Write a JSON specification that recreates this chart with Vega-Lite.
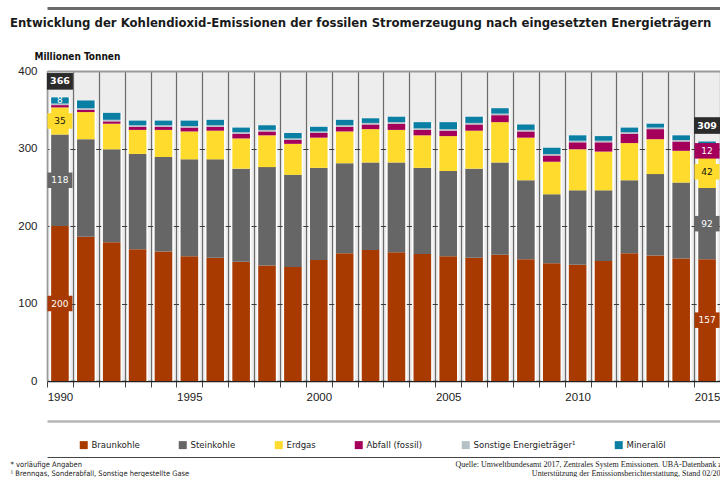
{
  "$schema": "https://vega.github.io/schema/vega-lite/v6.json",
  "width": 673,
  "height": 310,
  "autosize": {"type": "none"},
  "padding": {"left": 47, "top": 71, "right": 0, "bottom": 96},
  "background": "white",
  "title": {
    "text": "Entwicklung der Kohlendioxid-Emissionen der fossilen Stromerzeugung nach eingesetzten Energieträgern",
    "anchor": "start",
    "frame": "group",
    "dx": -37,
    "offset": -32,
    "baseline": "alphabetic",
    "font": "DejaVu Sans Condensed, sans-serif",
    "fontSize": 13,
    "fontWeight": "bold",
    "color": "#1a1a1a"
  },
  "data": {
    "values": [
      {"year": 1990, "Braunkohle": 200, "Steinkohle": 118, "Erdgas": 35, "Abfall": 3, "Sonstige": 2, "Mineraloel": 8},
      {"year": 1991, "Braunkohle": 186, "Steinkohle": 126, "Erdgas": 35, "Abfall": 3, "Sonstige": 2, "Mineraloel": 10},
      {"year": 1992, "Braunkohle": 179, "Steinkohle": 120, "Erdgas": 33, "Abfall": 3, "Sonstige": 2, "Mineraloel": 9},
      {"year": 1993, "Braunkohle": 170, "Steinkohle": 123, "Erdgas": 31, "Abfall": 4, "Sonstige": 2, "Mineraloel": 6},
      {"year": 1994, "Braunkohle": 167, "Steinkohle": 122, "Erdgas": 35, "Abfall": 4, "Sonstige": 2, "Mineraloel": 6},
      {"year": 1995, "Braunkohle": 161, "Steinkohle": 125, "Erdgas": 36, "Abfall": 5, "Sonstige": 2, "Mineraloel": 7},
      {"year": 1996, "Braunkohle": 159, "Steinkohle": 127, "Erdgas": 37, "Abfall": 5, "Sonstige": 2, "Mineraloel": 7},
      {"year": 1997, "Braunkohle": 154, "Steinkohle": 120, "Erdgas": 39, "Abfall": 6, "Sonstige": 2, "Mineraloel": 6},
      {"year": 1998, "Braunkohle": 149, "Steinkohle": 127, "Erdgas": 41, "Abfall": 5, "Sonstige": 2, "Mineraloel": 6},
      {"year": 1999, "Braunkohle": 147, "Steinkohle": 119, "Erdgas": 40, "Abfall": 5, "Sonstige": 2, "Mineraloel": 7},
      {"year": 2000, "Braunkohle": 156, "Steinkohle": 119, "Erdgas": 39, "Abfall": 6, "Sonstige": 2, "Mineraloel": 6},
      {"year": 2001, "Braunkohle": 165, "Steinkohle": 116, "Erdgas": 41, "Abfall": 6, "Sonstige": 2, "Mineraloel": 7},
      {"year": 2002, "Braunkohle": 169, "Steinkohle": 113, "Erdgas": 43, "Abfall": 6, "Sonstige": 2, "Mineraloel": 6},
      {"year": 2003, "Braunkohle": 166, "Steinkohle": 116, "Erdgas": 42, "Abfall": 8, "Sonstige": 2, "Mineraloel": 7},
      {"year": 2004, "Braunkohle": 164, "Steinkohle": 111, "Erdgas": 42, "Abfall": 7, "Sonstige": 2, "Mineraloel": 8},
      {"year": 2005, "Braunkohle": 161, "Steinkohle": 110, "Erdgas": 45, "Abfall": 7, "Sonstige": 2, "Mineraloel": 9},
      {"year": 2006, "Braunkohle": 159, "Steinkohle": 115, "Erdgas": 49, "Abfall": 8, "Sonstige": 2, "Mineraloel": 8},
      {"year": 2007, "Braunkohle": 163, "Steinkohle": 119, "Erdgas": 52, "Abfall": 9, "Sonstige": 2, "Mineraloel": 7},
      {"year": 2008, "Braunkohle": 157, "Steinkohle": 102, "Erdgas": 55, "Abfall": 8, "Sonstige": 2, "Mineraloel": 7},
      {"year": 2009, "Braunkohle": 152, "Steinkohle": 89, "Erdgas": 42, "Abfall": 8, "Sonstige": 2, "Mineraloel": 8},
      {"year": 2010, "Braunkohle": 150, "Steinkohle": 96, "Erdgas": 53, "Abfall": 9, "Sonstige": 2, "Mineraloel": 7},
      {"year": 2011, "Braunkohle": 155, "Steinkohle": 91, "Erdgas": 50, "Abfall": 12, "Sonstige": 2, "Mineraloel": 6},
      {"year": 2012, "Braunkohle": 165, "Steinkohle": 94, "Erdgas": 48, "Abfall": 12, "Sonstige": 2, "Mineraloel": 6},
      {"year": 2013, "Braunkohle": 162, "Steinkohle": 105, "Erdgas": 45, "Abfall": 13, "Sonstige": 2, "Mineraloel": 5},
      {"year": 2014, "Braunkohle": 158, "Steinkohle": 98, "Erdgas": 41, "Abfall": 12, "Sonstige": 2, "Mineraloel": 6},
      {"year": 2015, "Braunkohle": 157, "Steinkohle": 92, "Erdgas": 42, "Abfall": 12, "Sonstige": 2, "Mineraloel": 4}
    ]
  },
  "transform": [
    {"fold": ["Braunkohle", "Steinkohle", "Erdgas", "Abfall", "Sonstige", "Mineraloel"], "as": ["cat", "v"]},
    {"calculate": "indexof(['Braunkohle','Steinkohle','Erdgas','Abfall','Sonstige','Mineraloel'], datum.cat)", "as": "ord"},
    {"stack": "v", "groupby": ["year"], "sort": [{"field": "ord", "order": "ascending"}], "as": ["v0", "v1"]},
    {"calculate": "(datum.v0 + datum.v1) / 2", "as": "mid"},
    {"joinaggregate": [{"op": "sum", "field": "v", "as": "total"}], "groupby": ["year"]}
  ],
  "layer": [
    {
      "layer": [
        {
          "transform": [{"filter": "datum.ord == 0"}],
          "mark": {"type": "bar", "width": {"band": 0.8}, "color": "white"},
          "encoding": {
            "x": {
              "field": "year", "type": "ordinal",
              "scale": {"paddingInner": 0, "paddingOuter": 0},
              "axis": {
                "tickBand": "extent",
                "labelExpr": "datum.value % 5 == 0 ? datum.label : ''",
                "labelAngle": 0,
                "labelFont": "Liberation Sans, sans-serif",
                "labelFontSize": 11.5,
                "labelColor": "#222",
                "labelPadding": 4,
                "ticks": true,
                "tickSize": 6,
                "tickColor": "#444",
                "tickWidth": 1,
                "domain": true,
                "domainColor": "#222",
                "domainWidth": 1.5,
                "grid": true,
                "gridColor": "#6b6b6b",
                "gridWidth": 1.2,
                "title": ["* vorläufige Angaben", "¹ Brenngas, Sonderabfall, Sonstige hergestellte Gase"],
                "titleFont": "DejaVu Sans Condensed, sans-serif",
                "titleFontSize": 7.5,
                "titleFontWeight": "normal",
                "titleColor": "#222",
                "titleAlign": "left",
                "titleBaseline": "alphabetic",
                "titleX": -37,
                "titleY": 85,
                "titleLineHeight": 9.5
              }
            },
            "y": {
              "field": "total", "type": "quantitative",
              "scale": {"domain": [0, 400], "nice": false},
              "axis": {
                "values": [0, 100, 200, 300, 400],
                "grid": true,
                "gridColor": {"condition": {"test": "datum.value == 400", "value": "#9a9a9a"}, "value": "#3a3a3a"},
                "gridWidth": {"condition": {"test": "datum.value == 400", "value": 2}, "value": 1},
                "ticks": false,
                "domain": true,
                "domainColor": "#9a9a9a",
                "domainWidth": 1.5,
                "labelPadding": 10,
                "labelFont": "Liberation Sans, sans-serif",
                "labelFontSize": 11.5,
                "labelColor": "#222",
                "title": "Millionen Tonnen",
                "titleAngle": 0,
                "titleAlign": "left",
                "titleBaseline": "alphabetic",
                "titleX": -13,
                "titleY": -12,
                "titleFont": "DejaVu Sans Condensed, sans-serif",
                "titleFontSize": 10,
                "titleFontWeight": "bold",
                "titleColor": "#111"
              }
            },
            "y2": {"datum": 0}
          }
        },
        {
          "mark": {"type": "bar", "width": {"band": 0.68}},
          "encoding": {
            "x": {"field": "year", "type": "ordinal"},
            "y": {"field": "v0", "type": "quantitative"},
            "y2": {"field": "v1"},
            "color": {
              "field": "cat", "type": "nominal",
              "scale": {
                "domain": ["Braunkohle", "Steinkohle", "Erdgas", "Abfall", "Sonstige", "Mineraloel"],
                "range": ["#a83a00", "#666666", "#fedb2d", "#a4005b", "#b6c0c7", "#0a7fa3"]
              },
              "legend": {
                "orient": "none",
                "legendX": 32,
                "legendY": 369,
                "direction": "horizontal",
                "columns": 6,
                "columnPadding": 38,
                "title": null,
                "padding": 0,
                "symbolType": "square",
                "symbolSize": 64,
                "symbolStrokeWidth": 0,
                "labelOffset": 3,
                "labelFont": "DejaVu Sans Condensed, sans-serif",
                "labelFontSize": 9.5,
                "labelColor": "#222",
                "labelExpr": "datum.label == 'Abfall' ? 'Abfall (fossil)' : datum.label == 'Sonstige' ? 'Sonstige Energieträger¹' : datum.label == 'Mineraloel' ? 'Mineralöl' : datum.label"
              }
            }
          }
        },
        {
          "transform": [{"filter": "(datum.year == 1990 && indexof(['Braunkohle','Steinkohle','Erdgas'], datum.cat) >= 0) || (datum.year == 2015 && indexof(['Braunkohle','Steinkohle','Erdgas','Abfall'], datum.cat) >= 0)"}],
          "mark": {"type": "point", "shape": "M-1,-0.62H1V0.62H-1Z", "size": 625, "filled": true, "opacity": 1, "strokeWidth": 0},
          "encoding": {
            "x": {"field": "year", "type": "ordinal"},
            "y": {"field": "mid", "type": "quantitative"},
            "color": {"field": "cat", "type": "nominal", "legend": null}
          }
        },
        {
          "transform": [{"filter": "(datum.year == 1990 && indexof(['Braunkohle','Steinkohle','Erdgas','Mineraloel'], datum.cat) >= 0) || (datum.year == 2015 && indexof(['Braunkohle','Steinkohle','Erdgas','Abfall'], datum.cat) >= 0)"}],
          "mark": {"type": "text", "font": "DejaVu Sans, sans-serif", "fontSize": 9, "baseline": "middle", "align": "center"},
          "encoding": {
            "x": {"field": "year", "type": "ordinal"},
            "y": {"field": "mid", "type": "quantitative"},
            "text": {"field": "v", "type": "quantitative", "format": "d"},
            "color": {"condition": {"test": "datum.cat == 'Erdgas'", "value": "#111111"}, "value": "white"}
          }
        },
        {
          "transform": [{"filter": "(datum.year == 1990 || datum.year == 2015) && datum.ord == 0"}],
          "mark": {"type": "point", "shape": "M-1,-0.64H1V0.64H-1Z", "size": 676, "filled": true, "opacity": 1, "strokeWidth": 0, "color": "#2b2b2b", "yOffset": -16},
          "encoding": {
            "x": {"field": "year", "type": "ordinal"},
            "y": {"field": "total", "type": "quantitative"}
          }
        },
        {
          "transform": [{"filter": "(datum.year == 1990 || datum.year == 2015) && datum.ord == 0"}],
          "mark": {"type": "text", "font": "DejaVu Sans, sans-serif", "fontSize": 9.5, "fontWeight": "bold", "color": "white", "baseline": "middle", "align": "center", "yOffset": -16},
          "encoding": {
            "x": {"field": "year", "type": "ordinal"},
            "y": {"field": "total", "type": "quantitative"},
            "text": {"field": "total", "type": "quantitative", "format": "d"}
          }
        }
      ]
    },
    {
      "transform": [{"filter": "datum.year == 1990 && datum.ord == 0"}],
      "mark": {"type": "text", "text": " ", "opacity": 0},
      "encoding": {
        "x": {"field": "year", "type": "ordinal", "axis": {"orient": "top", "offset": 63, "domain": true, "domainColor": "#6a6a6a", "domainWidth": 3, "labels": false, "ticks": false, "grid": false, "title": null}}
      }
    },
    {
      "transform": [{"filter": "datum.year == 1990 && datum.ord == 0"}],
      "mark": {"type": "text", "text": " ", "opacity": 0},
      "encoding": {
        "x": {"field": "year", "type": "ordinal", "axis": {"orient": "bottom", "offset": 40, "domain": true, "domainColor": "#b4b4b4", "domainWidth": 2.5, "labels": false, "ticks": false, "grid": false, "title": null}}
      }
    },
    {
      "transform": [{"filter": "datum.year == 1990 && datum.ord == 0"}],
      "mark": {"type": "text", "text": " ", "opacity": 0},
      "encoding": {
        "x": {"field": "year", "type": "ordinal", "axis": {
          "orient": "bottom", "offset": 76, "domain": true, "domainColor": "#444", "domainWidth": 1.2, "labels": false, "ticks": false, "grid": false,
          "title": ["Quelle: Umweltbundesamt 2017, Zentrales System Emissionen. UBA-Datenbank zur", "Unterstützung der Emissionsberichterstattung, Stand 02/2017"],
          "titleFont": "Liberation Serif, DejaVu Serif, serif",
          "titleFontSize": 8,
          "titleFontWeight": "normal",
          "titleColor": "#222",
          "titleAlign": "right",
          "titleBaseline": "alphabetic",
          "titleX": 681,
          "titleY": 9,
          "titleLineHeight": 9.5
        }}
      }
    }
  ],
  "resolve": {"axis": {"x": "independent"}},
  "config": {
    "view": {"stroke": null, "fill": "#ededed"},
    "font": "Liberation Sans, sans-serif"
  }
}
